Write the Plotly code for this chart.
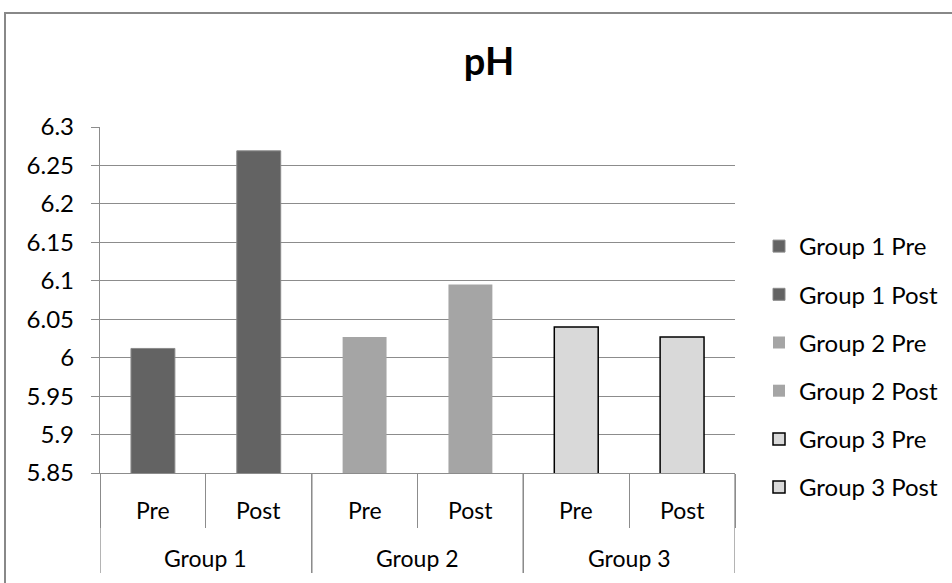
import plotly.graph_objects as go

groups = ["Group 1", "Group 1", "Group 2", "Group 2", "Group 3", "Group 3"]
phases = ["Pre", "Post", "Pre", "Post", "Pre", "Post"]
values = [6.012, 6.269, 6.027, 6.095, 6.040, 6.027]
fill_colors = ["#636363", "#636363", "#a5a5a5", "#a5a5a5", "#d9d9d9", "#d9d9d9"]
line_colors = ["#8a8a8a", "#8a8a8a", "#a5a5a5", "#a5a5a5", "#000000", "#000000"]
line_widths = [1, 1, 0, 0, 1.5, 1.5]
y_ticks = [5.85, 5.9, 5.95, 6.0, 6.05, 6.1, 6.15, 6.2, 6.25, 6.3]
y_tick_labels = ["5.85", "5.9", "5.95", "6", "6.05", "6.1", "6.15", "6.2", "6.25", "6.3"]

FONT = "Lato"
GRID = "#8c8c8c"

names = [f"{g} {p}" for g, p in zip(groups, phases)]

fig = go.Figure()
for i, name in enumerate(names):
    fig.add_trace(go.Bar(
        x=[name], y=[values[i]], name=name, width=0.415,
        marker=dict(color=fill_colors[i],
                    line=dict(color=line_colors[i], width=line_widths[i])),
        legendgroup=name,
    ))

# plot area geometry (pixels)
L, R, T, B = 100, 735, 127, 473
W, H = 952, 583
ph = B - T

def py(p):  # pixel y -> paper y
    return (B - p) / ph

def px(p):  # pixel x -> paper x
    return (p - L) / (R - L)

shapes = []
annotations = []
# inner labels
for i, name in enumerate(names):
    annotations.append(dict(x=i, y=py(510), xref="x", yref="paper", text=phases[i],
                            showarrow=False, yanchor="middle",
                            font=dict(family=FONT, size=23, color="#000")))
# group dividers and labels
uniq = []
for g in groups:
    if g not in uniq:
        uniq.append(g)
for g in uniq:
    idx = [i for i, gg in enumerate(groups) if gg == g]
    a, b = min(idx), max(idx)
    annotations.append(dict(x=(a + b) / 2, y=py(558), xref="x", yref="paper", text=g,
                            showarrow=False, yanchor="middle",
                            font=dict(family=FONT, size=23, color="#000")))
    for xv in (a - 0.5, b + 0.5):
        shapes.append(dict(type="line", xref="x", yref="paper", x0=xv, x1=xv,
                           y0=0, y1=py(573), line=dict(color=GRID, width=1.3)))

# outer chart border
shapes.append(dict(type="rect", xref="paper", yref="paper",
                   x0=px(5), x1=px(990), y0=py(620), y1=py(13),
                   line=dict(color="#888888", width=2), fillcolor="rgba(0,0,0,0)"))

fig.update_layout(
    width=W, height=H,
    margin=dict(l=L, r=W - R, t=T, b=H - B, pad=0, autoexpand=False),
    paper_bgcolor="white", plot_bgcolor="white",
    barmode="overlay",
    title=dict(text="<b>pH</b>", x=489 / W, xref="container", xanchor="center",
               y=1 - 62 / H, yref="container", yanchor="middle",
               font=dict(family=FONT, size=38, color="#000")),
    font=dict(family=FONT, size=23, color="#000"),
    showlegend=True,
    legend=dict(x=px(759), xanchor="left", y=py(224), yanchor="top",
                font=dict(family=FONT, size=24, color="#000"),
                tracegroupgap=14, itemclick=False, bgcolor="rgba(0,0,0,0)"),
    shapes=shapes,
    annotations=annotations,
)
fig.update_xaxes(type="category", categoryorder="array", categoryarray=names,
                 range=[-0.5, len(names) - 0.5],
                 showticklabels=False, ticks="outside", tickson="boundaries",
                 ticklen=54, tickcolor=GRID, tickwidth=1.3,
                 showline=True, linecolor=GRID, linewidth=1.3, showgrid=False,
                 zeroline=False)
fig.update_yaxes(range=[5.85, 6.3], tickvals=y_ticks, ticktext=y_tick_labels,
                 ticks="outside", ticklen=8, tickcolor=GRID, tickwidth=1.3,
                 showline=True, linecolor=GRID, linewidth=1.3,
                 showgrid=True, gridcolor=GRID, gridwidth=1.3, zeroline=False,
                 ticklabelstandoff=12,
                 tickfont=dict(family=FONT, size=24, color="#000"))

fig.write_html("out.html")
